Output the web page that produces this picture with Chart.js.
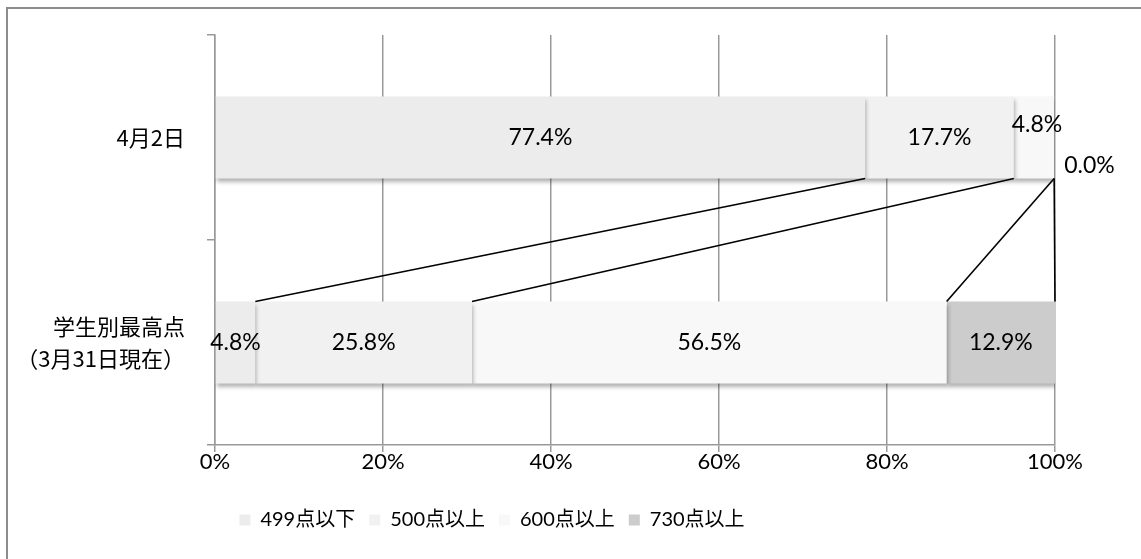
<!DOCTYPE html>
<html>
<head>
<meta charset="utf-8">
<script src="https://cdn.jsdelivr.net/npm/chart.js@4/dist/chart.umd.min.js"></script>
<style>
  html, body { margin: 0; padding: 0; background: #ffffff; }
  #wrap { width: 1141px; height: 559px; position: relative; }
</style>
</head>
<body>
<div id="wrap"><canvas id="c" width="1141" height="559"></canvas></div>
<script>
// ---- data ----
const categories = ['4月2日', ['学生別最高点', '（3月31日現在）']];
const seriesNames = ['499点以下', '500点以上', '600点以上', '730点以上'];
const s499 = [77.4, 4.8];
const s500 = [17.7, 25.8];
const s600 = [4.8, 56.5];
const s730 = [0.0, 12.9];
const xTicks = [0, 20, 40, 60, 80, 100];

const seriesValues = [s499, s500, s600, s730];
const seriesColors = ['#ececec', '#f1f1f1', '#f8f8f8', '#cccccc'];

const numFont = "Lato, 'Noto Sans CJK JP', sans-serif";
const cjkFont = "'Noto Sans CJK JP', sans-serif";

const framePlugin = {
  id: 'frame',
  afterLayout(chart) {
    const lg = chart.legend;
    if (lg) { lg.left = 0; lg.right = 984; }
  },
  beforeDraw(chart) {
    const ctx = chart.ctx;
    ctx.save();
    ctx.fillStyle = '#ffffff';
    ctx.fillRect(0, 0, chart.width, chart.height);
    ctx.strokeStyle = '#8c8c8c';
    ctx.lineWidth = 2;
    ctx.strokeRect(7, 8, chart.width + 10, chart.height + 10);
    ctx.restore();
  },
  beforeDatasetsDraw(chart) {
    const ctx = chart.ctx;
    ctx.save();
    ctx.shadowColor = 'rgba(0,0,0,0.30)';
    ctx.shadowBlur = 4;
    ctx.shadowOffsetX = 1;
    ctx.shadowOffsetY = 3;
  },
  afterDatasetsDraw(chart) {
    const ctx = chart.ctx;
    ctx.restore();
    // series lines between the two bars
    const n = chart.data.datasets.length;
    ctx.save();
    ctx.strokeStyle = '#000000';
    ctx.lineWidth = 1.6;
    for (let i = 0; i < n; i++) {
      const meta = chart.getDatasetMeta(i);
      const a = meta.data[0], b = meta.data[1];
      const ya = a.y + a.height / 2;
      const yb = b.y - b.height / 2;
      ctx.beginPath();
      ctx.moveTo(a.x, ya);
      ctx.lineTo(b.x, yb);
      ctx.stroke();
    }
    ctx.restore();
    // data labels
    ctx.save();
    ctx.fillStyle = '#000000';
    ctx.font = '23px ' + numFont;
    ctx.textBaseline = 'middle';
    for (let i = 0; i < n; i++) {
      const meta = chart.getDatasetMeta(i);
      const vals = chart.data.datasets[i].data;
      meta.data.forEach((el, j) => {
        const v = vals[j];
        const txt = v.toFixed(1) + '%';
        let cx = (el.x + el.base) / 2;
        let cy = el.y;
        ctx.textAlign = 'center';
        if (v === 0) {
          ctx.textAlign = 'left';
          cx = el.x + 10;
          cy = el.y + 28;
        } else if (j === 0 && i === 2) {
          cy = el.y - 13;
          cx += 3;
        }
        ctx.fillText(txt, cx, cy);
      });
    }
    ctx.restore();
  }
};

const datasets = seriesNames.map((name, i) => ({
  label: name,
  data: seriesValues[i],
  backgroundColor: seriesColors[i],
  borderWidth: 0,
  barPercentage: 0.4,
  categoryPercentage: 1.0
}));

new Chart(document.getElementById('c'), {
  type: 'bar',
  data: { labels: categories, datasets },
  plugins: [framePlugin],
  options: {
    indexAxis: 'y',
    responsive: false,
    animation: false,
    events: [],
    layout: { padding: { left: 0, right: 86, top: 35, bottom: 19 } },
    scales: {
      x: {
        stacked: true,
        min: 0,
        max: 100,
        afterBuildTicks(scale) { scale.ticks = xTicks.map(v => ({ value: v })); },
        afterFit(scale) { scale.height = 51; },
        border: { color: '#999999', width: 1.5 },
        grid: { color: '#999999', lineWidth: 1.5, tickLength: 7, drawTicks: true },
        ticks: {
          color: '#000000',
          font: { family: numFont, size: 22 },
          padding: -3,
          maxRotation: 0,
          callback: v => v + '%'
        }
      },
      y: {
        stacked: true,
        afterFit(scale) {
          scale.width = 215;
          scale.paddingTop = 0;
          scale.paddingBottom = 0;
        },
        border: { color: '#999999', width: 1.5 },
        grid: { drawOnChartArea: false, color: '#999999', lineWidth: 1.5, tickLength: 8, offset: true },
        ticks: {
          color: '#000000',
          font: { family: cjkFont, size: 22, lineHeight: 1.45 },
          padding: 22
        }
      }
    },
    plugins: {
      legend: {
        position: 'bottom',
        labels: {
          color: '#000000',
          font: { family: numFont, size: 20 },
          boxWidth: 11,
          boxHeight: 11,
          padding: 14
        }
      },
      tooltip: { enabled: false },
      title: { display: false }
    }
  }
});
</script>
</body>
</html>
